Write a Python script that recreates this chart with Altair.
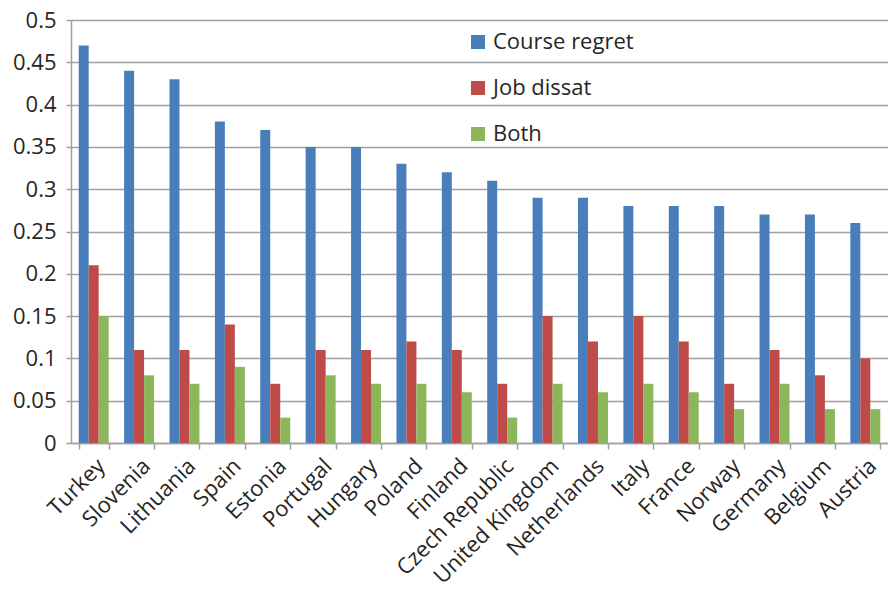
import altair as alt
import pandas as pd

countries = ["Turkey", "Slovenia", "Lithuania", "Spain", "Estonia", "Portugal",
             "Hungary", "Poland", "Finland", "Czech Republic", "United Kingdom",
             "Netherlands", "Italy", "France", "Norway", "Germany", "Belgium", "Austria"]
course_regret = [0.47, 0.44, 0.43, 0.38, 0.37, 0.35, 0.35, 0.33, 0.32, 0.31,
                 0.29, 0.29, 0.28, 0.28, 0.28, 0.27, 0.27, 0.26]
job_dissat = [0.21, 0.11, 0.11, 0.14, 0.07, 0.11, 0.11, 0.12, 0.11, 0.07,
              0.15, 0.12, 0.15, 0.12, 0.07, 0.11, 0.08, 0.10]
both = [0.15, 0.08, 0.07, 0.09, 0.03, 0.08, 0.07, 0.07, 0.06, 0.03,
        0.07, 0.06, 0.07, 0.06, 0.04, 0.07, 0.04, 0.04]
series = ["Course regret", "Job dissat", "Both"]
colors = ["#4A7EBB", "#BE4B48", "#8CB65B"]
y_ticks = [0, 0.05, 0.1, 0.15, 0.2, 0.25, 0.3, 0.35, 0.4, 0.45, 0.5]

rows = []
for i, c in enumerate(countries):
    for s, vals in zip(series, [course_regret, job_dissat, both]):
        rows.append({"country": c, "series": s, "value": vals[i]})
df = pd.DataFrame(rows)

FONT = "Open Sans"
TXT = "#262626"

chart = alt.Chart(df).mark_bar().encode(
    x=alt.X("country:N", sort=countries, title=None,
            scale=alt.Scale(paddingInner=0.34, paddingOuter=0.17),
            axis=alt.Axis(labelAngle=-45, labelFontSize=22, labelFont=FONT,
                          labelColor=TXT, labelBaseline="top",
                          tickBand="extent", tickSize=6,
                          tickColor="#A0A0A0", tickWidth=1.5,
                          domainColor="#A0A0A0", domainWidth=1.5,
                          labelPadding=6, grid=False)),
    xOffset=alt.XOffset("series:N", sort=series),
    y=alt.Y("value:Q", title=None,
            scale=alt.Scale(domain=[0, 0.5], nice=False),
            axis=alt.Axis(values=y_ticks, format=".2~f", labelFontSize=22,
                          labelFont=FONT, labelColor=TXT, tickSize=5,
                          tickColor="#A0A0A0", tickWidth=1.5,
                          domainColor="#A0A0A0", domainWidth=1.5,
                          gridColor="#A0A0A0", gridWidth=1.5,
                          labelPadding=10)),
    color=alt.Color("series:N", sort=series,
                    scale=alt.Scale(domain=series, range=colors),
                    legend=alt.Legend(title=None, orient="none", legendX=396,
                                      legendY=11, symbolType="square",
                                      symbolSize=196, symbolStrokeWidth=0,
                                      labelFontSize=22, labelFont=FONT,
                                      labelColor=TXT, labelOffset=4,
                                      rowPadding=24)),
).properties(
    width=817, height=423,
    autosize=alt.AutoSizeParams(type="none"),
    padding={"left": 71, "top": 20, "right": 0, "bottom": 148},
).configure_view(stroke=None).configure(background="white")

chart.save("out.html", embed_options={"renderer": "svg", "actions": False})
